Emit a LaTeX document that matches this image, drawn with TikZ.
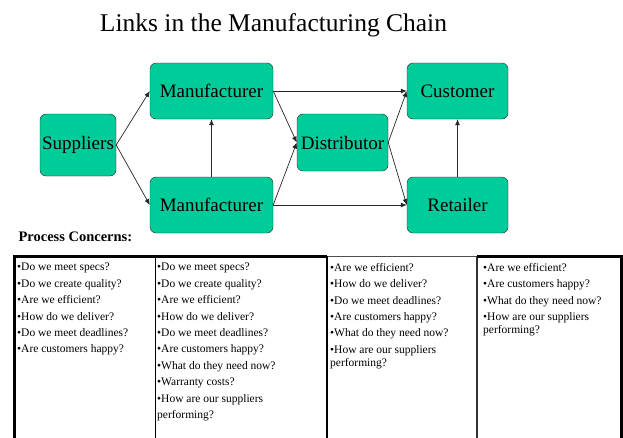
\documentclass[tikz,border=0pt]{standalone}
\usepackage{fontspec}
\setmainfont{Liberation Serif}
\usetikzlibrary{arrows.meta}
\definecolor{linkgreen}{HTML}{00CC99}
\tikzset{
  link/.style={draw=black!85, fill=linkgreen, rounded corners=6pt, inner sep=0pt,
    minimum height=56pt, font=\fontsize{19}{19}\selectfont},
  flow/.style={-{Latex[length=6pt,width=5pt]}, draw=black!85, line width=0.7pt},
  concern/.style={anchor=north west, inner sep=0pt, align=left,
    font=\fontsize{11.5}{16.4}\selectfont}
}
\begin{document}
\begin{tikzpicture}[x=1pt,y=-1pt]
			\clip (0,0) rectangle (623,437);
			\node[anchor=base,font=\fontsize{25.5}{25.5}\selectfont] (title) at (273.5,31) {Links in the Manufacturing Chain};
			\node[link,minimum width=76pt,minimum height=62pt] (sup)  at (78,145)	{Suppliers};
			\node[link,minimum width=123pt] (mtop) at (211.5,91)	{Manufacturer};
			\node[link,minimum width=123pt] (mbot) at (211.5,205)	{Manufacturer};
			\node[link,minimum width=91pt,minimum height=57pt] (dist) at (342.5,142.5)	{Distributor};
			\node[link,minimum width=101pt] (cust) at (457.5,91)	{Customer};
			\node[link,minimum width=101pt] (ret)  at (457.5,205)	{Retailer};
			%
			\def\list {sup/mtop, sup/mbot, mtop/dist, mtop/cust, mbot/dist, mbot/ret, dist/cust, dist/ret}  % east to west
			\foreach \u\v in \list
			{	\draw[flow] (\u.east) -- (\v.west);
			}
			\def\vertical {mbot/mtop, ret/cust}  % upwards
			\foreach \u\v in \vertical
			{	\draw[flow] (\u) -- (\v);
			}
			%
			\node[anchor=base west,font=\fontsize{14.5}{14.5}\selectfont\bfseries] (pc) at (15,241) {Process Concerns:};
			% table of concerns
			\draw[black!70,line width=1pt] (327,256) -- (477,256);
			\draw[line width=0.8pt] (155,256) -- (155,440);
			\draw[line width=1.2pt] (327,256) -- (327,440);
			\draw[black!80,line width=2.5pt] (477,256) -- (477,440);
			\draw[line width=3pt] (14.5,440) -- (14.5,256.5) -- (327,256.5);
			\draw[line width=3pt] (477,256.5) -- (621.5,256.5) -- (621.5,440);
			\node[concern] (c1) at (17,263) {•Do we meet specs?\\•Do we create quality?\\•Are we efficient?\\•How do we deliver?\\•Do we meet deadlines?\\•Are customers happy?};
			\node[concern] (c2) at (157,263) {•Do we meet specs?\\•Do we create quality?\\•Are we efficient?\\•How do we deliver?\\•Do we meet deadlines?\\•Are customers happy?\\•What do they need now?\\•Warranty costs?\\•How are our suppliers\\performing?};
			\node[concern] (c3) at (330,263) {•Are we efficient?\\•How do we deliver?\\•Do we meet deadlines?\\•Are customers happy?\\•What do they need now?\\•How are our suppliers\\[-3pt]performing?};
			\node[concern] (c4) at (483,263) {•Are we efficient?\\•Are customers happy?\\•What do they need now?\\•How are our suppliers\\[-3pt]performing?};
		\end{tikzpicture}
\end{document}
